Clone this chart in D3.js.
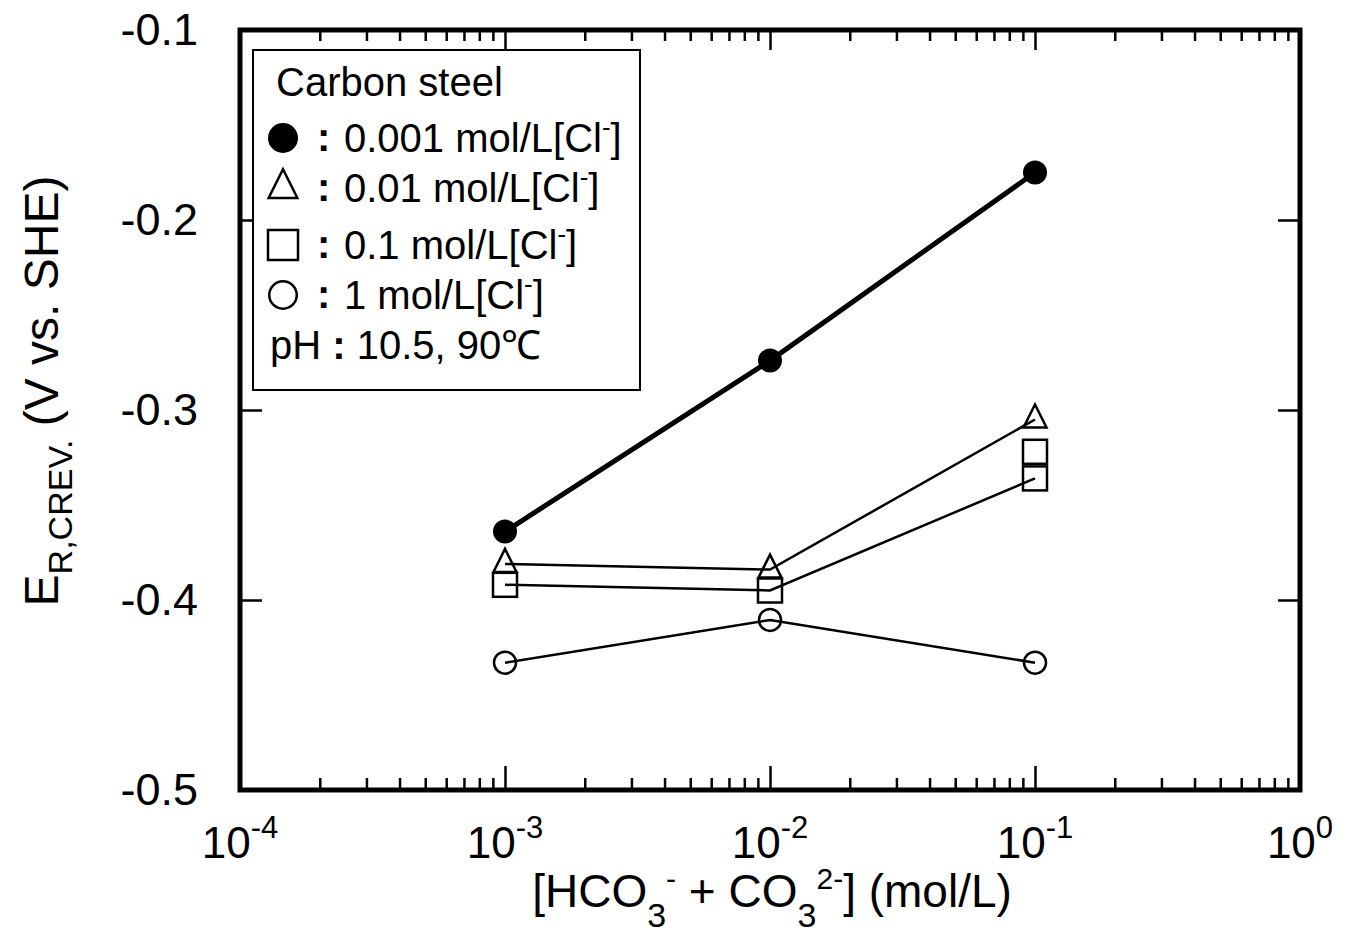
<!DOCTYPE html>
<html>
<head>
<meta charset="utf-8">
<script src="https://cdn.jsdelivr.net/npm/d3@7"></script>
<style>
  body { margin: 0; background: #fff; }
  text { font-family: "Liberation Sans", Arial, sans-serif; fill: #000; }
</style>
</head>
<body>
<div id="chart"></div>
<script>
// data
var concentrations = [1e-3, 1e-2, 1e-1];
var cl0001 = [-0.364, -0.274, -0.175];   // filled circle
var cl001 = [-0.381, -0.384, -0.305];    // triangle
var cl01 = [-0.392, -0.395, -0.336];     // square
var cl01Extra = [[1e-1, -0.322]];         // second square at 0.1
var cl1 = [-0.433, -0.4105, -0.433];     // open circle

var xDecades = [-4, -3, -2, -1, 0];
var yTicks = [-0.5, -0.4, -0.3, -0.2, -0.1];
var legendLabels = ["0.001 mol/L[Cl", "0.01 mol/L[Cl", "0.1 mol/L[Cl", "1 mol/L[Cl"];
var legendSymbols = ["filled", "triangle", "square", "circle"];

// dimensions
var W = 1347, H = 933;
var margin = {top: 30, right: 47, bottom: 143, left: 240},
  width = W - margin.left - margin.right,
  height = H - margin.top - margin.bottom;

var svg = d3.select("#chart")
  .append("svg")
    .attr("width", W)
    .attr("height", H);

var g = svg.append("g")
  .attr("transform", "translate(" + margin.left + "," + margin.top + ")");

var x = d3.scaleLog().domain([1e-4, 1]).range([0, width]);
var y = d3.scaleLinear().domain([-0.5, -0.1]).range([height, 0]);

// ticks, inward on all four sides
var minor = [];
for (var e = -4; e < 0; e++) {
  for (var k = 2; k <= 9; k++) minor.push(k * Math.pow(10, e));
}
var majors = xDecades.map(function(d) { return Math.pow(10, d); });

g.append("g").attr("class", "x axis bottom")
  .attr("transform", "translate(0," + height + ")")
  .call(d3.axisBottom(x).tickValues(minor).tickSizeInner(-12).tickSizeOuter(0).tickFormat(""));
g.append("g").attr("class", "x axis bottom major")
  .attr("transform", "translate(0," + height + ")")
  .call(d3.axisBottom(x).tickValues(majors).tickSizeInner(-24).tickSizeOuter(0).tickFormat(""));
g.append("g").attr("class", "x axis top")
  .call(d3.axisTop(x).tickValues(minor).tickSizeInner(-11).tickSizeOuter(0).tickFormat(""));
g.append("g").attr("class", "x axis top major")
  .call(d3.axisTop(x).tickValues(majors).tickSizeInner(-20).tickSizeOuter(0).tickFormat(""));
g.append("g").attr("class", "y axis left")
  .call(d3.axisLeft(y).tickValues(yTicks).tickSizeInner(-22).tickSizeOuter(0).tickFormat(""));
g.append("g").attr("class", "y axis right")
  .attr("transform", "translate(" + width + ",0)")
  .call(d3.axisRight(y).tickValues(yTicks).tickSizeInner(-22).tickSizeOuter(0).tickFormat(""));

g.selectAll(".axis .domain").remove();
g.selectAll(".axis line").attr("stroke", "#000").attr("stroke-width", 2.5);

// frame
g.append("rect")
  .attr("width", width).attr("height", height)
  .attr("fill", "none").attr("stroke", "#000").attr("stroke-width", 5);

// tick labels
var xl = svg.selectAll(".xlab")
  .data(xDecades)
  .join("text")
  .attr("class", "xlab")
  .attr("x", function(d) { return margin.left + x(Math.pow(10, d)); })
  .attr("y", margin.top + height + 68)
  .attr("text-anchor", "middle")
  .style("font-size", "44px");
xl.append("tspan").text("10");
xl.append("tspan").attr("dy", -20).style("font-size", "31px")
  .text(function(d) { return d === 0 ? "0" : "-" + (-d); });

svg.selectAll(".ylab")
  .data(yTicks)
  .join("text")
  .attr("class", "ylab")
  .attr("x", margin.left - 42)
  .attr("y", function(d) { return margin.top + y(d) + 15; })
  .attr("text-anchor", "end")
  .style("font-size", "45px")
  .text(function(d) { return d.toFixed(1); });

// axis titles
var xt = svg.append("text")
  .attr("x", margin.left + x(1e-2) + 2)
  .attr("y", 907)
  .attr("text-anchor", "middle")
  .style("font-size", "46px");
xt.append("tspan").text("[HCO");
xt.append("tspan").attr("dy", 20).style("font-size", "34px").text("3");
xt.append("tspan").attr("dy", -38).style("font-size", "30px").text("-");
xt.append("tspan").attr("dy", 18).text(" + CO");
xt.append("tspan").attr("dy", 20).style("font-size", "34px").text("3");
xt.append("tspan").attr("dy", -38).style("font-size", "30px").text("2-");
xt.append("tspan").attr("dy", 18).text("] (mol/L)");

var yt = svg.append("text")
  .attr("transform", "translate(58," + (margin.top + y(-0.29)) + ") rotate(-90)")
  .attr("text-anchor", "middle")
  .style("font-size", "48px");
yt.append("tspan").text("E");
yt.append("tspan").attr("dy", 14).style("font-size", "34px").text("R,CREV.");
yt.append("tspan").attr("dy", -14).text(" (V vs. SHE)");

// series
var line = d3.line()
  .x(function(d) { return x(d[0]); })
  .y(function(d) { return y(d[1]); });

function pts(vals) {
  return concentrations.map(function(c, i) { return [c, vals[i]]; });
}

var series = [
  {vals: cl1, sym: "circle", lw: 2.5},
  {vals: cl01, sym: "square", lw: 2.5},
  {vals: cl001, sym: "triangle", lw: 2.5},
  {vals: cl0001, sym: "filled", lw: 5}
];

series.forEach(function(s) {
  g.append("path")
    .datum(pts(s.vals))
    .attr("d", line)
    .attr("fill", "none")
    .attr("stroke", "#000")
    .attr("stroke-width", s.lw);
});

function drawSymbol(sel, sym, sc) {
  sc = sc || 1;
  if (sym === "filled") {
    sel.append("circle").attr("r", 12 * sc).attr("fill", "#000");
  } else if (sym === "circle") {
    sel.append("circle").attr("r", 11 * sc).attr("fill", "none")
      .attr("stroke", "#000").attr("stroke-width", 2.5);
  } else if (sym === "square") {
    sel.append("rect").attr("x", -12 * sc).attr("y", -12 * sc).attr("width", 24 * sc).attr("height", 24 * sc)
      .attr("fill", "none").attr("stroke", "#000").attr("stroke-width", 2.5);
  } else if (sym === "triangle") {
    sel.append("path").attr("d", "M0," + (-15 * sc) + "L" + (11.5 * sc) + "," + (8 * sc) + "L" + (-11.5 * sc) + "," + (8 * sc) + "Z")
      .attr("fill", "none").attr("stroke", "#000").attr("stroke-width", 2.5);
  }
}

series.forEach(function(s) {
  g.selectAll(null)
    .data(pts(s.vals))
    .join("g")
    .attr("transform", function(d) { return "translate(" + x(d[0]) + "," + y(d[1]) + ")"; })
    .each(function() { drawSymbol(d3.select(this), s.sym); });
});
g.selectAll(null)
  .data(cl01Extra)
  .join("g")
  .attr("transform", function(d) { return "translate(" + x(d[0]) + "," + y(d[1]) + ")"; })
  .each(function() { drawSymbol(d3.select(this), "square"); });

// legend
var leg = svg.append("g");
leg.append("rect")
  .attr("x", 253).attr("y", 50).attr("width", 387).attr("height", 340)
  .attr("fill", "#fff").attr("stroke", "#000").attr("stroke-width", 2);
leg.append("text").attr("x", 276).attr("y", 96).style("font-size", "40px").text("Carbon steel");

var rowY = [138, 188, 245, 295];
legendLabels.forEach(function(lab, i) {
  var sg = leg.append("g").attr("transform", "translate(283," + rowY[i] + ")");
  drawSymbol(sg, legendSymbols[i], 1.25);
  leg.append("text").attr("x", 317).attr("y", rowY[i] + 13).style("font-size", "40px")
    .style("font-weight", "bold").text(":");
  var t = leg.append("text").attr("x", 344).attr("y", rowY[i] + 14).style("font-size", "40px");
  t.append("tspan").text(lab);
  t.append("tspan").attr("dy", -16).style("font-size", "26px").text("-");
  t.append("tspan").attr("dy", 16).text("]");
});
var ph = leg.append("text").attr("x", 270).attr("y", 359).style("font-size", "40px");
ph.append("tspan").text("pH ");
ph.append("tspan").style("font-weight", "bold").text(":");
ph.append("tspan").text(" 10.5, 90\u2103");
</script>
</body>
</html>
